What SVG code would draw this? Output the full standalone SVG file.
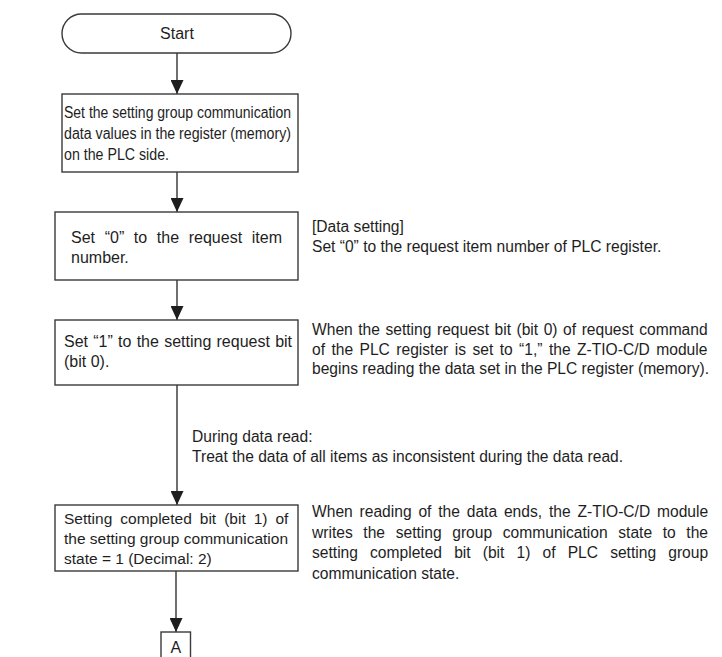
<svg xmlns="http://www.w3.org/2000/svg" width="722" height="657" viewBox="0 0 722 657">
  <style>
    .box { fill: #ffffff; stroke: #3a3a3a; stroke-width: 1.4; }
    .lbl { font-family: "Liberation Sans", Arial, sans-serif; font-size: 16px; fill: #1e1e1e; }
    .lbl.sm { font-size: 15.5px; }
    .note { font-family: "Liberation Sans", Arial, sans-serif; font-size: 15.6px; fill: #1e1e1e; }
    .mid { text-anchor: middle; }
    .flow { stroke: #333333; stroke-width: 1.4; fill: none; marker-end: url(#head); }
  </style>
  <defs>
    <marker id="head" markerUnits="userSpaceOnUse" markerWidth="14" markerHeight="13" refX="14" refY="6.5" orient="auto">
      <path d="M0,0 L14,6.5 L0,13 Z" fill="#1e1e1e"/>
    </marker>
  </defs>

  <rect width="722" height="657" fill="#ffffff"/>

  <!-- connectors -->
  <g id="connectors">
    <line class="flow" x1="177" y1="53" x2="177" y2="94"/>
    <line class="flow" x1="177" y1="172" x2="177" y2="212"/>
    <line class="flow" x1="177" y1="280" x2="177" y2="320"/>
    <line class="flow" x1="177" y1="385" x2="177" y2="505"/>
    <line class="flow" x1="176" y1="571" x2="176" y2="632"/>
  </g>

  <!-- start terminal -->
  <g id="start">
    <rect class="box" x="62" y="14" width="229" height="39" rx="19.5" ry="19.5"/>
    <text class="lbl mid" x="177" y="39">Start</text>
  </g>

  <!-- step 1 -->
  <g id="set-values">
    <rect class="box" x="62" y="94" width="236" height="78"/>
    <text class="lbl" x="64" y="118" textLength="227" lengthAdjust="spacingAndGlyphs">Set the setting group communication</text>
    <text class="lbl" x="64" y="139" textLength="227" lengthAdjust="spacingAndGlyphs">data values in the register (memory)</text>
    <text class="lbl" x="64" y="160" textLength="105" lengthAdjust="spacingAndGlyphs">on the PLC side.</text>
  </g>

  <!-- step 2 -->
  <g id="request-item">
    <rect class="box" x="55" y="212" width="243" height="68"/>
    <text class="lbl" x="71" y="243" word-spacing="5.2">Set “0” to the request item</text>
    <text class="lbl" x="71" y="263">number.</text>
  </g>
  <g id="note-data-setting">
    <text class="note" x="312" y="231.5">[Data setting]</text>
    <text class="note" x="312" y="251.5">Set “0” to the request item number of PLC register.</text>
  </g>

  <!-- step 3 -->
  <g id="request-bit">
    <rect class="box" x="55" y="320" width="243" height="65"/>
    <text class="lbl" x="64" y="346.5" word-spacing="0.8">Set “1” to the setting request bit</text>
    <text class="lbl" x="64" y="367">(bit 0).</text>
  </g>
  <g id="note-request-bit">
    <text class="note" x="312" y="335" word-spacing="1.2">When the setting request bit (bit 0) of request command</text>
    <text class="note" x="312" y="354.5" word-spacing="2.1">of the PLC register is set to “1,” the Z-TIO-C/D module</text>
    <text class="note" x="312" y="374">begins reading the data set in the PLC register (memory).</text>
  </g>

  <!-- label on the long connector -->
  <g id="note-data-read">
    <text class="note" x="192" y="442">During data read:</text>
    <text class="note" x="192" y="461.5">Treat the data of all items as inconsistent during the data read.</text>
  </g>

  <!-- step 4 -->
  <g id="setting-completed">
    <rect class="box" x="55" y="505" width="243" height="66"/>
    <text class="lbl sm" x="64" y="524" word-spacing="3.7">Setting completed bit (bit 1) of</text>
    <text class="lbl sm" x="64" y="544">the setting group communication</text>
    <text class="lbl sm" x="64" y="564">state = 1 (Decimal: 2)</text>
  </g>
  <g id="note-completed">
    <text class="note" x="312" y="517" word-spacing="2.5">When reading of the data ends, the Z-TIO-C/D module</text>
    <text class="note" x="312" y="537.5" word-spacing="6.3">writes the setting group communication state to the</text>
    <text class="note" x="312" y="558" word-spacing="7.8">setting completed bit (bit 1) of PLC setting group</text>
    <text class="note" x="312" y="578.5">communication state.</text>
  </g>

  <!-- off-page connector -->
  <g id="connector-a">
    <rect class="box" x="161" y="632" width="29.5" height="30"/>
    <text class="lbl mid" x="175.8" y="653">A</text>
  </g>
</svg>
